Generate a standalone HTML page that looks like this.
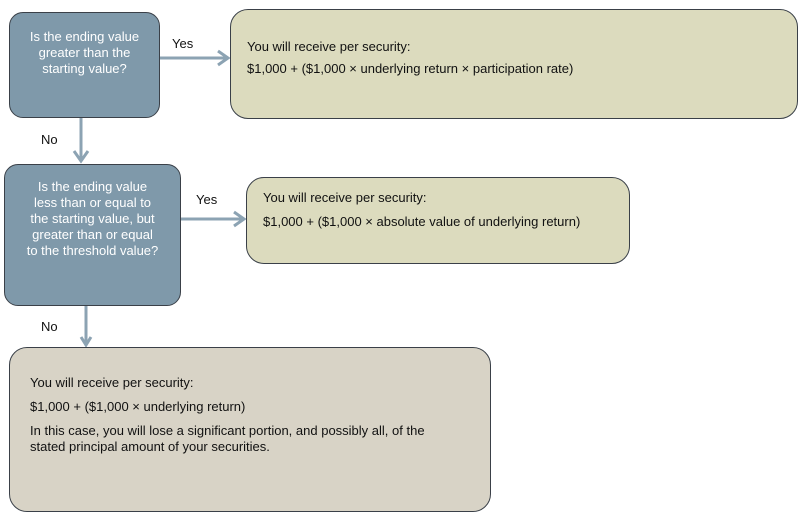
<!DOCTYPE html>
<html><head><style>
body{margin:0;background:#fff;width:806px;height:523px;position:relative;overflow:hidden;font-family:"Liberation Sans",Arial,sans-serif;font-size:13px;}
.b{position:absolute;box-sizing:border-box;border:1px solid #3a4048;}
.q{background:#7f99aa;color:#fff;text-align:center;line-height:16px;border-radius:14px;}
.r{background:#dcdbbe;color:#111;border-radius:18px;}
.t{position:absolute;color:#111;}
</style></head><body>
<svg width="806" height="523" style="position:absolute;left:0;top:0">
<g stroke="#8ca3b3" stroke-width="3" fill="none">
<line x1="160" y1="58" x2="228" y2="58"/><polyline points="218,51 228,58 218,65"/>
<line x1="81" y1="117" x2="81" y2="161"/><polyline points="74,151 81,161 88,151"/>
<line x1="181" y1="219" x2="244" y2="219"/><polyline points="234,212 244,219 234,226"/>
<line x1="86" y1="305" x2="86" y2="345"/><polyline points="81,337 86,345 91,337"/>
</g></svg>
<div class="b q" style="left:9px;top:12px;width:151px;height:106px;padding-top:16px">Is the ending value<br>greater than the<br>starting value?</div>
<div class="b q" style="left:4px;top:164px;width:177px;height:142px;padding-top:14px">Is the ending value<br>less than or equal to<br>the starting value, but<br>greater than or equal<br>to the threshold value?</div>
<div class="b r" style="left:230px;top:9px;width:568px;height:110px;padding:26px 0 0 16px;line-height:22px">You will receive per security:<br>$1,000 + ($1,000 × underlying return × participation rate)</div>
<div class="b r" style="left:246px;top:177px;width:384px;height:87px;padding:8px 0 0 16px;line-height:24px">You will receive per security:<br>$1,000 + ($1,000 × absolute value of underlying return)</div>
<div class="b r" style="left:9px;top:347px;width:482px;height:165px;padding:27px 0 0 20px;line-height:16px;background:#d8d3c6">You will receive per security:<div style="margin-top:8px">$1,000 + ($1,000 × underlying return)</div><div style="margin-top:8px">In this case, you will lose a significant portion, and possibly all, of the<br>stated principal amount of your securities.</div></div>
<div class="t" style="left:172px;top:36px">Yes</div>
<div class="t" style="left:196px;top:192px">Yes</div>
<div class="t" style="left:41px;top:132px">No</div>
<div class="t" style="left:41px;top:319px">No</div>
</body></html>
